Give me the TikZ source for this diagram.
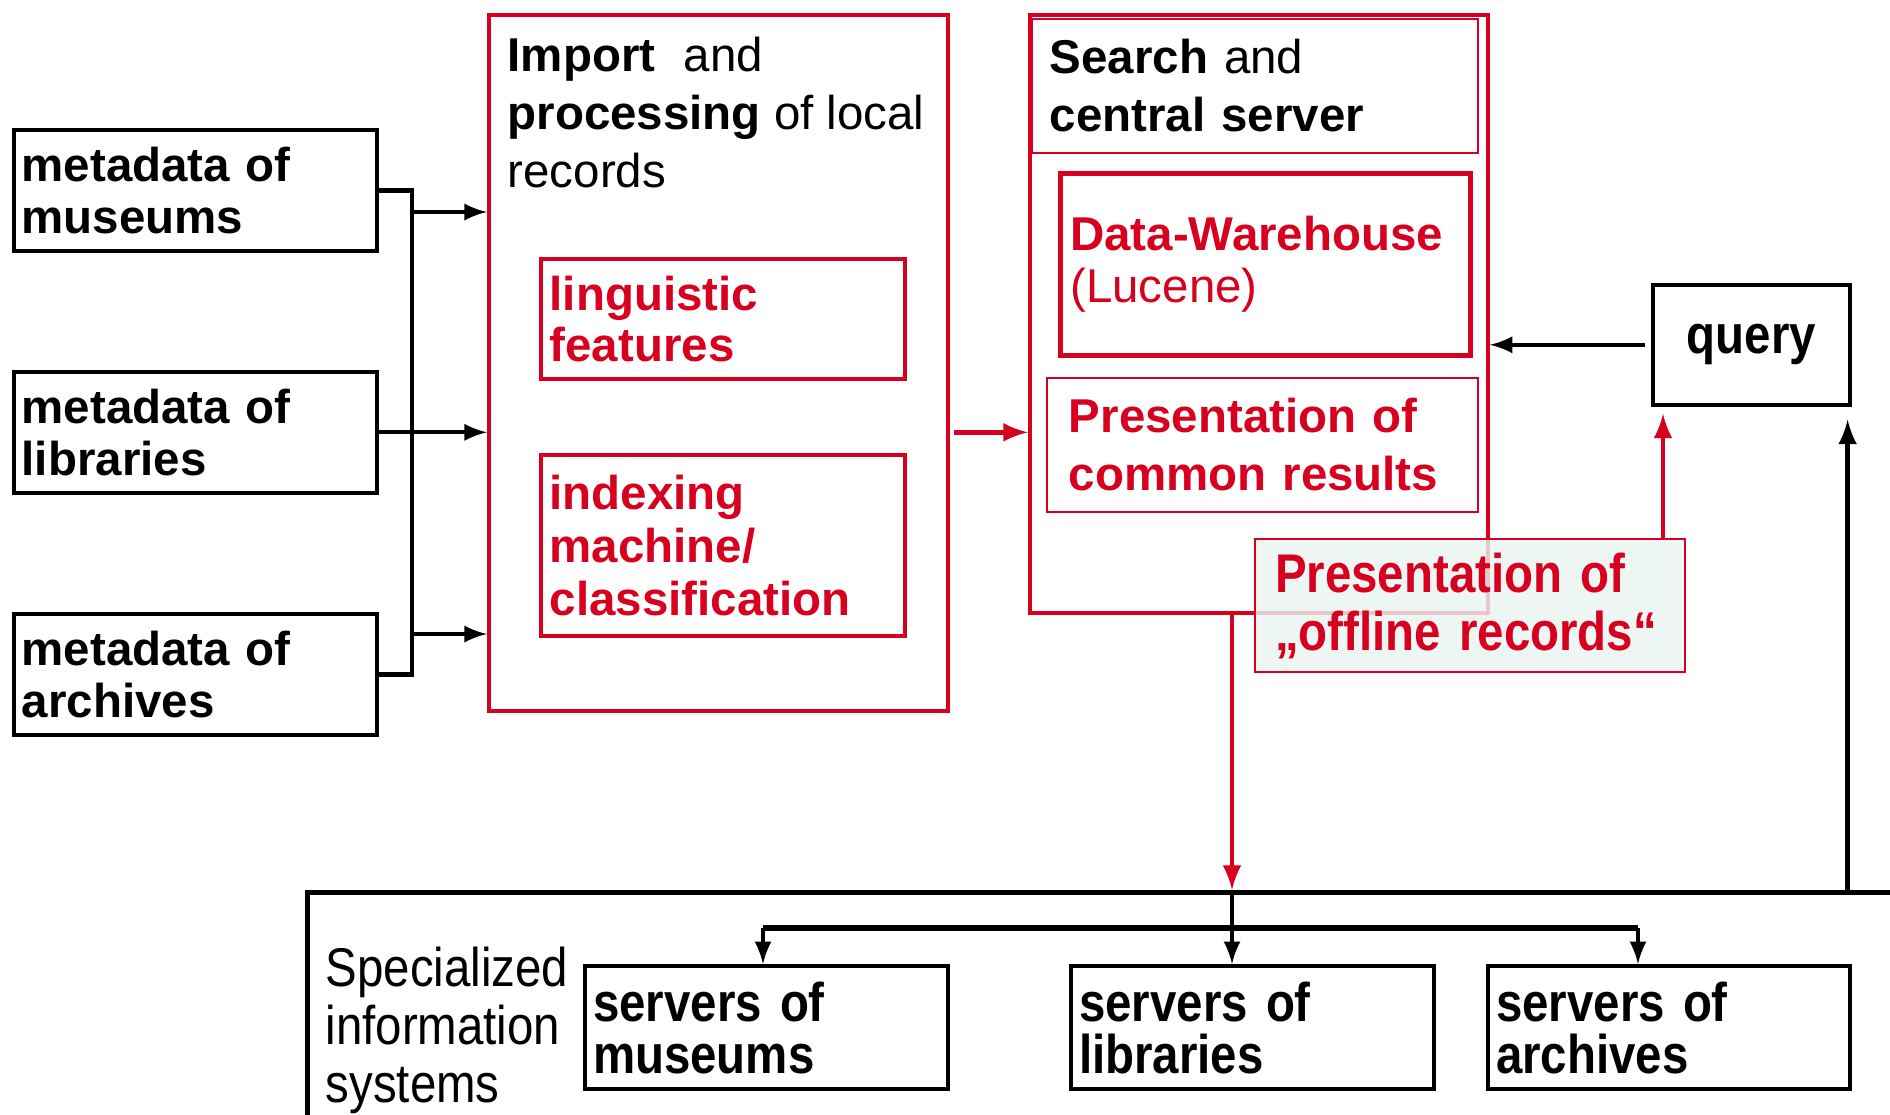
\documentclass[tikz,border=0pt]{standalone}
\usepackage{fontspec}
\setmainfont{Liberation Sans}
\newfontfamily\narrowfont[FakeStretch=0.87]{Liberation Sans}
\usepackage{tikz}
\usetikzlibrary{arrows}
\definecolor{dred}{RGB}{215,0,30}
\definecolor{offfill}{RGB}{234,244,242}

\begin{document}
\begin{tikzpicture}[>=latex, x=0.01cm, y=-0.01cm]
			\tikzstyle{blackbox} = [draw, line width=1pt, anchor=north west, align=left, inner xsep=0.08cm, inner ysep=0pt]
			\tikzstyle{redbox} = [draw=dred, text=dred, line width=1pt, anchor=north west, align=left, inner ysep=0pt]
			\tikzstyle{headtext} = [anchor=north west, align=left, inner sep=0pt]
			\tikzstyle{blk} = [->, line width=1.2pt]
			\tikzstyle{rd} = [->, line width=1.4pt, dred]
			\useasboundingbox (0,0) rectangle (1890,1114);

			% local metadata
			\begin{scope}[font=\fontsize{13.5}{14.8}\selectfont\bfseries]
			\node[blackbox, text width=3.47cm, minimum height=1.21cm] (metmus) at (12,128) {metadata of\\museums};
			\node[blackbox, text width=3.47cm, minimum height=1.21cm] (metlib) at (12,370) {metadata of\\libraries};
			\node[blackbox, text width=3.47cm, minimum height=1.21cm] (metarc) at (12,612) {metadata of\\archives};
			\end{scope}

			% import and processing
			\node[redbox, minimum width=4.59cm, minimum height=6.96cm] (imp) at (487,13) {};
			\node[headtext, font=\fontsize{13.5}{16.5}\selectfont] (imptitle) at (507,36)
				{\textbf{Import}\hspace{0.6em}and\\\textbf{processing} of local\\records};
			\begin{scope}[font=\fontsize{13.5}{14.5}\selectfont\bfseries]
			\node[redbox, inner xsep=0.09cm, text width=3.46cm, minimum height=1.20cm] (ling) at (539,257) {linguistic\\features};
			\node[redbox, inner xsep=0.09cm, text width=3.46cm, minimum height=1.81cm, font=\fontsize{13.5}{15}\selectfont\bfseries] (idx) at (539,453) {indexing\\machine/\\classification};
			\end{scope}

			% search and central server
			\node[redbox, minimum width=4.58cm, minimum height=5.98cm] (srch) at (1028,13) {};
			\node[redbox, text=black, line width=0.5pt, inner xsep=0.18cm, text width=4.10cm, minimum height=1.34cm,
				font=\fontsize{13.5}{16.5}\selectfont] (srchtitle) at (1031,18) {\textbf{Search} and\\\textbf{central server}};
			\node[redbox, line width=1.3pt, inner xsep=0.1cm, text width=3.90cm, minimum height=1.82cm,
				font=\fontsize{13.5}{14.8}\selectfont] (dwh) at (1058,171) {\textbf{Data-Warehouse}\\(Lucene)};
			\node[redbox, line width=0.5pt, inner xsep=0.22cm, text width=3.87cm, minimum height=1.34cm,
				font=\fontsize{13.5}{16.5}\selectfont\bfseries] (common) at (1046,377) {Presentation of\\common results};
			\node[redbox, line width=0.6pt, fill=offfill, fill opacity=0.82, text opacity=1, inner xsep=0.2cm, text width=3.90cm,
				minimum height=1.33cm, font=\narrowfont\fontsize{15.5}{16.5}\selectfont\bfseries] (offl) at (1254,538)
				{Presentation of\\„offline records“};

			% query
			\node[blackbox, minimum width=1.97cm, minimum height=1.20cm, align=center,
				font=\narrowfont\fontsize{15.5}{16.5}\selectfont\bfseries] (qry) at (1651,283) {query};

			% specialized information systems
			\node[draw, line width=1.3pt, anchor=north west, minimum width=17cm, minimum height=4cm] (sis) at (305,890) {};
			\node[headtext, font=\narrowfont\fontsize{15.5}{16.5}\selectfont] (sistext) at (325,946) {Specialized\\information\\systems};
			\begin{scope}[font=\narrowfont\fontsize{15.5}{14.8}\selectfont\bfseries]
			\node[blackbox, line width=1.2pt, text width=3.47cm, minimum height=1.23cm] (srvmus) at (583,964) {servers of\\museums};
			\node[blackbox, line width=1.2pt, text width=3.47cm, minimum height=1.23cm] (srvlib) at (1069,964) {servers of\\libraries};
			\node[blackbox, line width=1.2pt, text width=3.46cm, minimum height=1.23cm] (srvarc) at (1486,964) {servers of\\archives};
			\end{scope}

			% connectors
			\coordinate (busx) at (412,0);
			\coordinate (in1) at (412,212);
			\coordinate (in3) at (412,634);
			\coordinate (hub) at (1232,890);
			\coordinate (forkl) at (763,928);
			\coordinate (forkr) at (1638,928);
			\draw[line width=1.3pt] (metmus.east) -| (busx |- metarc.east) -- (metarc.east);
			\draw[blk] (in1) -- (in1 -| imp.west);
			\draw[blk] (metlib.east) -- (metlib.east -| imp.west);
			\draw[blk] (in3) -- (in3 -| imp.west);
			\draw[rd] ([xshift=0.04cm]imp.east |- metlib.east) -- (srch.west |- metlib.east);
			\draw[blk] ([xshift=-0.06cm]qry.west) -- (srch.east |- qry.west);
			\draw[rd] ([xshift=0.12cm]qry.south west |- offl.north) -- ([xshift=0.12cm, yshift=-0.07cm]qry.south west);
			\draw[blk, line width=1.4pt] ([xshift=-0.04cm]qry.south east |- sis.north) -- ([xshift=-0.04cm, yshift=-0.13cm]qry.south east);
			\draw[rd] (hub |- srch.south) -- (hub);
			\draw[blk] (hub) -- (hub |- srvlib.north);
			\draw[line width=1.6pt] (forkl) -- (forkr);
			\draw[blk] (forkl) -- (forkl |- srvmus.north);
			\draw[blk] (forkr) -- (forkr |- srvarc.north);
			\end{tikzpicture}
\end{document}
